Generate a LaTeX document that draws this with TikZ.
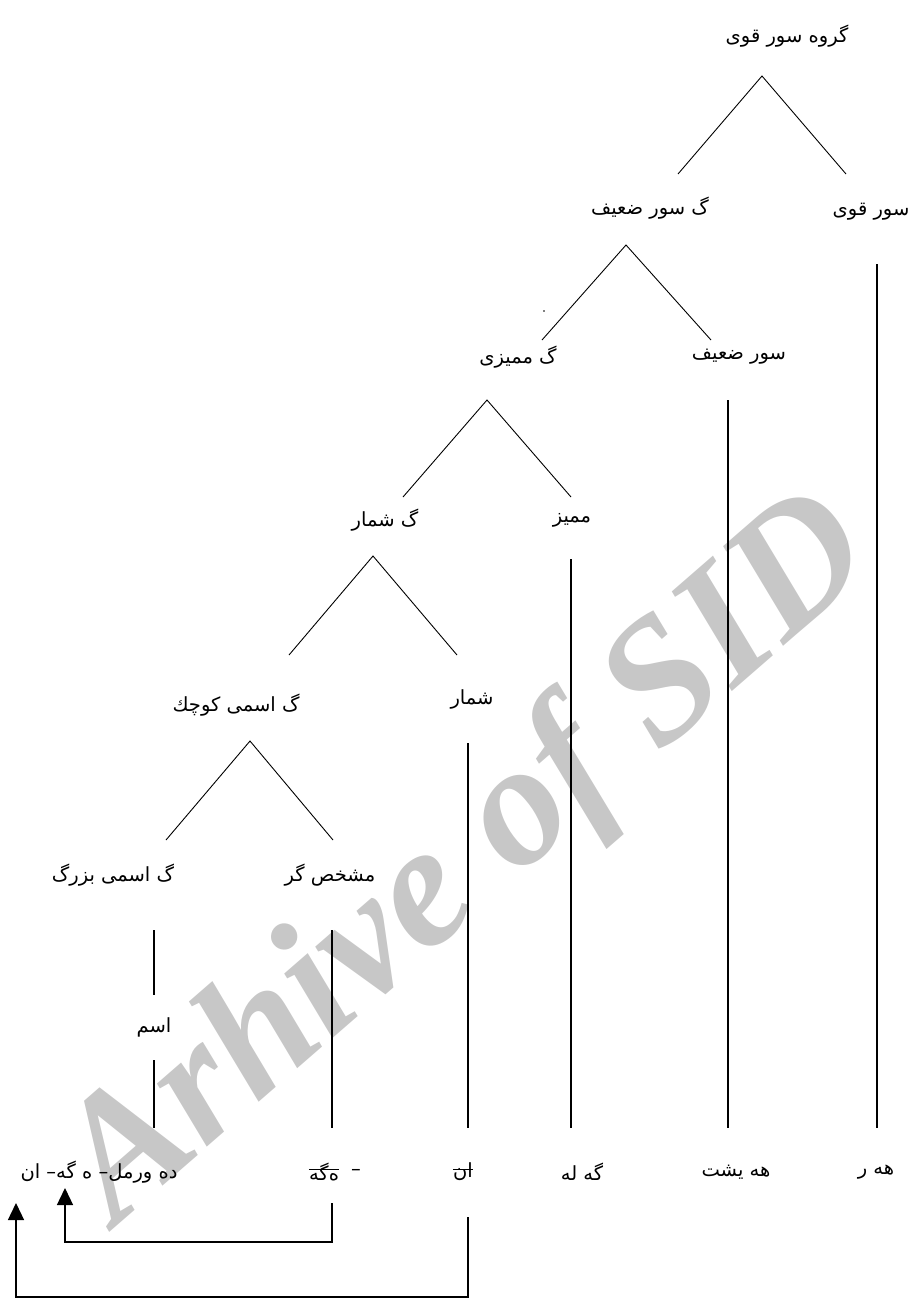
\documentclass[tikz,border=0pt]{standalone}
\usepackage{fontspec}
\usetikzlibrary{arrows.meta}
\TeXXeTstate=1
\newfontfamily\fafont[Script=Arabic]{DejaVu Sans}
\newfontfamily\wmfont{Liberation Serif}
\newcommand{\fatext}[1]{\beginR #1\endR}
\begin{document}
\begin{tikzpicture}[x=1pt,y=-1pt,
  lbl/.style={font=\fafont\fontsize{19.5}{22}\selectfont, inner sep=0pt, anchor=center},
  tree/.style={line width=0.9pt},
  stem/.style={line width=1.4pt},
  back/.style={line width=1.4pt, -{Triangle[width=16pt,length=17pt]}},
  strike/.style={line width=0.8pt}
]
\useasboundingbox (0,0) rectangle (912,1299);
% watermark
\node[rotate=41, text=black!22, font=\wmfont\bfseries\itshape\fontsize{175}{185}\selectfont, inner sep=0pt] (wm) at (470,862) {Arhive of SID};
% labels
\node[lbl] (top) at (787,36) {\fatext{گروه سور قوی}};
\node[lbl] (gsz) at (650,208) {\fatext{گ سور ضعیف}};
\node[lbl] (sq) at (871,212) {\fatext{سور قوی}};
\node[lbl] (gm) at (518,357) {\fatext{گ ممیزی}};
\node[lbl] (sz) at (739,357) {\fatext{سور ضعیف}};
\node[lbl] (gsh) at (385,520) {\fatext{گ شمار}};
\node[lbl] (mm) at (572,520) {\fatext{ممیز}};
\node[lbl] (gak) at (236,705) {\fatext{گ اسمی كوچك}};
\node[lbl] (shm) at (472,699) {\fatext{شمار}};
\node[lbl] (gab) at (113,875) {\fatext{گ اسمی بزرگ}};
\node[lbl] (msh) at (330,875) {\fatext{مشخص گر}};
\node[lbl] (ism) at (154,1027) {\fatext{اسم}};
\node[inner sep=0pt, circle, fill, minimum size=1.6pt] (dot) at (544,311) {};
% bottom row
\node[lbl] (hr) at (876,1172) {\fatext{هه ر}};
\node[lbl] (hy) at (736,1172) {\fatext{هه یشت}};
\node[lbl] (gl) at (582,1172) {\fatext{گه له}};
\node[lbl] (an) at (463,1172) {\fatext{ان}};
\node[lbl] (mg) at (324,1172) {\fatext{ه‌گه}};
\node[lbl] (mgd) at (356,1172) {\fatext{–}};
\node[lbl] (word) at (99,1172) {\fatext{ده ورمل– ه گه– ان}};
% strike-through
\draw[strike] (an.west |- 0,1169) -- (an.east |- 0,1169);
\draw[strike] (mg.west |- 0,1169) -- (mg.east |- 0,1169);
% tree coordinates
\coordinate (t1a) at (762,76);  \coordinate (t1l) at (678,174); \coordinate (t1r) at (846,174);
\coordinate (t2a) at (626,245); \coordinate (t2l) at (542,340); \coordinate (t2r) at (711,340);
\coordinate (t3a) at (487,400); \coordinate (t3l) at (403,497); \coordinate (t3r) at (571,497);
\coordinate (t4a) at (373,556); \coordinate (t4l) at (289,655); \coordinate (t4r) at (457,655);
\coordinate (t5a) at (250,741); \coordinate (t5l) at (166,840); \coordinate (t5r) at (333,840);
\draw[tree] (t1l) -- (t1a) -- (t1r);
\draw[tree] (t2l) -- (t2a) -- (t2r);
\draw[tree] (t3l) -- (t3a) -- (t3r);
\draw[tree] (t4l) -- (t4a) -- (t4r);
\draw[tree] (t5l) -- (t5a) -- (t5r);
% stems
\coordinate (s1t) at (877,264); \coordinate (s1b) at (877,1128);
\coordinate (s2t) at (728,400); \coordinate (s2b) at (728,1128);
\coordinate (s3t) at (571,559); \coordinate (s3b) at (571,1128);
\coordinate (s4t) at (468,743); \coordinate (s4b) at (468,1128);
\coordinate (s5t) at (332,930); \coordinate (s5b) at (332,1128);
\coordinate (s6t) at (154,930); \coordinate (s6b) at (154,995);
\coordinate (s7t) at (154,1060); \coordinate (s7b) at (154,1128);
\draw[stem] (s1t) -- (s1b);
\draw[stem] (s2t) -- (s2b);
\draw[stem] (s3t) -- (s3b);
\draw[stem] (s4t) -- (s4b);
\draw[stem] (s5t) -- (s5b);
\draw[stem] (s6t) -- (s6b);
\draw[stem] (s7t) -- (s7b);
% movement arrows
\coordinate (a1s) at (332,1203); \coordinate (a1c) at (332,1242); \coordinate (a1e) at (65,1188);
\coordinate (a2s) at (468,1217); \coordinate (a2c) at (468,1297); \coordinate (a2e) at (16,1203);
\draw[back] (a1s) -- (a1c) -| (a1e);
\draw[back] (a2s) -- (a2c) -| (a2e);
\end{tikzpicture}
\end{document}
